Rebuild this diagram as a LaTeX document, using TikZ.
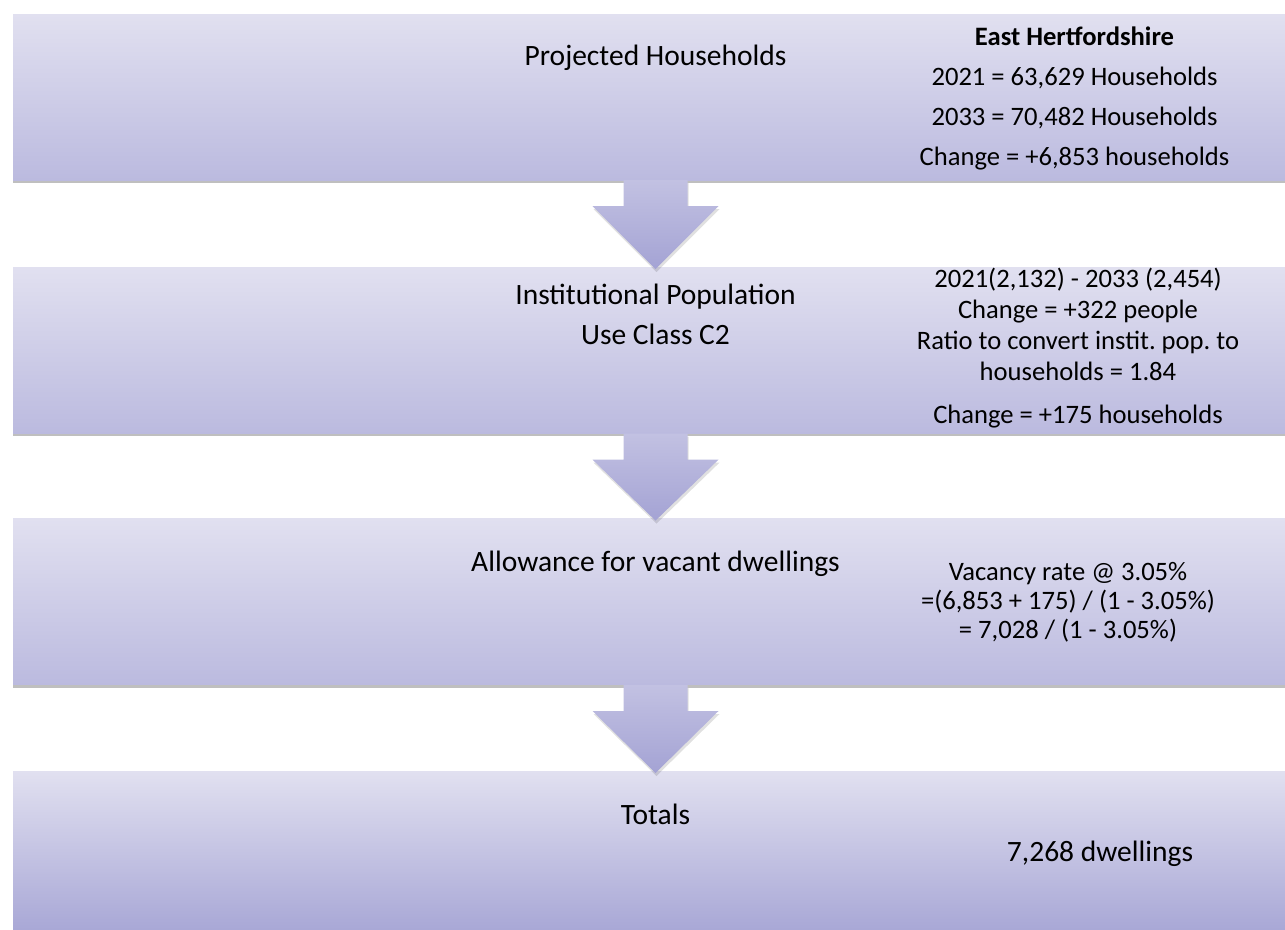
\documentclass[tikz,border=0pt]{standalone}
\usepackage{fontspec}
\setmainfont{Carlito}
\usetikzlibrary{positioning,shadows}
\frenchspacing

\definecolor{boxtop}{RGB}{225,224,240}
\definecolor{boxbot}{RGB}{187,186,223}
\definecolor{lastbot}{RGB}{166,165,213}
\definecolor{arrowtop}{RGB}{194,193,226}
\definecolor{arrowbot}{RGB}{164,163,212}

% wide block arrow from one box down to the next
\newcommand{\flowstep}[2]{%
  \path[flowarrow]
    ([xshift=-32pt]#1.south) -- ([xshift=32pt]#1.south)
    -- ([xshift=32pt,yshift=-26pt]#1.south) -- ([xshift=63pt,yshift=-26pt]#1.south)
    -- ([yshift=-2pt]#2.north)
    -- ([xshift=-63pt,yshift=-26pt]#1.south) -- ([xshift=-32pt,yshift=-26pt]#1.south)
    -- cycle;}

\begin{document}
\begin{tikzpicture}[x=1pt,y=-1pt,
    stage/.style={rectangle, minimum width=1285pt, minimum height=166pt, inner sep=0pt,
                  top color=boxtop, bottom color=boxbot,
                  drop shadow={shadow xshift=0pt, shadow yshift=-3pt, opacity=0.25, fill=black}},
    flowarrow/.style={top color=arrowtop, bottom color=arrowbot,
                  drop shadow={shadow xshift=1pt, shadow yshift=-3pt, opacity=0.12, fill=black}},
    title/.style={font=\fontsize{29.5}{40}\selectfont, align=center, inner sep=0pt},
    figs/.style={font=\fontsize{26.6}{40}\selectfont, align=center, inner sep=0pt}]
    \useasboundingbox (0,0) rectangle (1285,929);

    \node[stage] (hh) at (655.5,97) {};
    \node[stage, below=87pt of hh] (inst) {};
    \node[stage, below=85pt of inst] (vac) {};
    \node[stage, below=86pt of vac, bottom color=lastbot] (tot) {};

    \flowstep{hh}{inst}
    \flowstep{inst}{vac}
    \flowstep{vac}{tot}

    % left hand headings
    \node[title] (hhlab) at ([yshift=-44pt]hh.north) {Projected Households};
    \node[title] (instlab) at ([yshift=-47pt]inst.north) {Institutional Population\\Use Class C2};
    \node[title] (vaclab) at ([yshift=-45pt]vac.north) {Allowance for vacant dwellings};
    \node[title] (totlab) at ([yshift=-43pt]tot.north) {Totals};

    % figures on the right
    \node[figs] (hhfig) at ([xshift=419pt,yshift=-85pt]hh.north)
      {\textbf{East Hertfordshire}\\2021 = 63,629 Households\\2033 = 70,482 Households\\Change = +6,853 households};
    \node[figs, font=\fontsize{26.6}{31}\selectfont] (instfig) at ([xshift=422.5pt,yshift=-81pt]inst.north)
      {2021(2,132) - 2033 (2,454)\\Change = +322 people\\Ratio to convert instit. pop. to\\households = 1.84\\[12pt]Change = +175 households};
    \node[figs, font=\fontsize{26.6}{29}\selectfont] (vacfig) at ([xshift=412.5pt,yshift=-84pt]vac.north)
      {Vacancy rate @ 3.05\%\\=(6,853 + 175) / (1 - 3.05\%)\\= 7,028 / (1 - 3.05\%)};
    \node[title] (totfig) at ([xshift=444.5pt,yshift=-83pt]tot.north) {7,268 dwellings};
\end{tikzpicture}
\end{document}
